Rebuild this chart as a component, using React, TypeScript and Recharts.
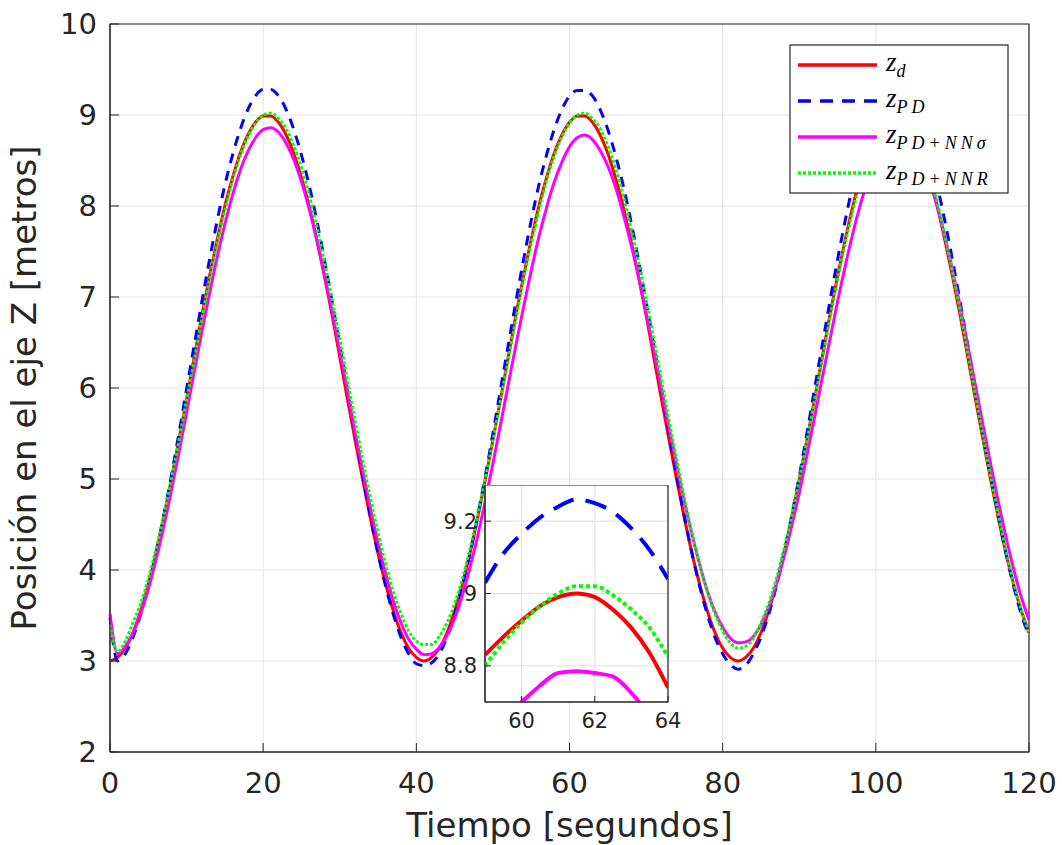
import { LineChart, Line, XAxis, YAxis, CartesianGrid, ReferenceArea, Label } from 'recharts'

// tiempo en segundos, paso de 1 s
const time = Array.from({ length: 121 }, (_, i) => i)

// trayectoria deseada z_d
const zd = [
  3.0, 3.04, 3.14, 3.31, 3.55, 3.84, 4.18, 4.57, 4.99, 5.43, 5.88, 6.34, 6.8, 7.23, 7.63, 8.0, 8.31, 8.58, 8.78, 8.92, 8.99,
  8.99, 8.92, 8.78, 8.58, 8.31, 8.0, 7.63, 7.23, 6.8, 6.34, 5.88, 5.43, 4.99, 4.57, 4.18, 3.84, 3.55, 3.31, 3.14, 3.04,
  3.0, 3.04, 3.14, 3.31, 3.55, 3.84, 4.18, 4.57, 4.99, 5.43, 5.88, 6.34, 6.8, 7.23, 7.63, 8.0, 8.31, 8.58, 8.78, 8.92, 8.99,
  8.99, 8.92, 8.78, 8.58, 8.31, 8.0, 7.63, 7.23, 6.8, 6.34, 5.88, 5.43, 4.99, 4.57, 4.18, 3.84, 3.55, 3.31, 3.14, 3.04,
  3.0, 3.04, 3.14, 3.31, 3.55, 3.84, 4.18, 4.57, 4.99, 5.43, 5.88, 6.34, 6.8, 7.23, 7.63, 8.0, 8.31, 8.58, 8.78, 8.92, 8.99,
  8.99, 8.92, 8.78, 8.58, 8.31, 8.0, 7.63, 7.23, 6.8, 6.34, 5.88, 5.43, 4.99, 4.57, 4.18, 3.84, 3.55, 3.31,
]

// controlador PD
const zPD = [
  3.48, 3.0, 3.08, 3.26, 3.51, 3.82, 4.18, 4.59, 5.03, 5.5, 5.99, 6.47, 6.95, 7.41, 7.84, 8.23, 8.56, 8.84, 9.06, 9.21, 9.28,
  9.28, 9.21, 9.06, 8.84, 8.56, 8.23, 7.84, 7.41, 6.95, 6.47, 5.99, 5.5, 5.03, 4.59, 4.18, 3.82, 3.51, 3.26, 3.08, 2.97,
  2.95, 2.98, 3.08, 3.26, 3.51, 3.82, 4.18, 4.59, 5.03, 5.5, 5.99, 6.47, 6.95, 7.41, 7.84, 8.23, 8.56, 8.84, 9.06, 9.21, 9.27,
  9.27, 9.21, 9.06, 8.84, 8.56, 8.23, 7.84, 7.41, 6.95, 6.47, 5.99, 5.5, 5.03, 4.59, 4.18, 3.82, 3.51, 3.26, 3.08, 2.96,
  2.91, 2.95, 3.08, 3.26, 3.51, 3.82, 4.18, 4.59, 5.03, 5.5, 5.99, 6.47, 6.95, 7.41, 7.84, 8.23, 8.56, 8.84, 9.06, 9.21, 9.28,
  9.28, 9.21, 9.06, 8.84, 8.56, 8.23, 7.84, 7.41, 6.95, 6.47, 5.99, 5.5, 5.03, 4.59, 4.18, 3.82, 3.51, 3.28,
]

// PD + NN sigma
const zNNs = [
  3.52, 3.08, 3.16, 3.31, 3.52, 3.79, 4.11, 4.47, 4.87, 5.29, 5.73, 6.18, 6.62, 7.04, 7.44, 7.8, 8.12, 8.39, 8.6, 8.75, 8.84,
  8.86, 8.81, 8.69, 8.51, 8.27, 7.97, 7.63, 7.25, 6.84, 6.41, 5.97, 5.52, 5.09, 4.68, 4.3, 3.96, 3.66, 3.42, 3.24, 3.13,
  3.07, 3.08, 3.15, 3.28, 3.47, 3.72, 4.03, 4.37, 4.76, 5.17, 5.6, 6.04, 6.47, 6.89, 7.29, 7.66, 7.98, 8.26, 8.48, 8.65, 8.75,
  8.78, 8.73, 8.61, 8.44, 8.21, 7.92, 7.59, 7.23, 6.83, 6.42, 5.99, 5.56, 5.15, 4.75, 4.39, 4.06, 3.77, 3.54, 3.37, 3.25,
  3.2, 3.21, 3.27, 3.4, 3.59, 3.84, 4.14, 4.48, 4.85, 5.26, 5.68, 6.11, 6.53, 6.95, 7.34, 7.7, 8.02, 8.29, 8.51, 8.67, 8.77,
  8.8, 8.77, 8.67, 8.5, 8.28, 8.0, 7.67, 7.3, 6.9, 6.47, 6.03, 5.59, 5.16, 4.75, 4.36, 4.01, 3.7, 3.45,
]

// PD + NN R
const zNNR = [
  3.4, 3.1, 3.22, 3.42, 3.63, 3.9, 4.23, 4.59, 5.0, 5.42, 5.87, 6.31, 6.76, 7.19, 7.59, 7.95, 8.28, 8.55, 8.76, 8.91, 9.0,
  9.02, 8.96, 8.85, 8.66, 8.42, 8.12, 7.77, 7.39, 6.97, 6.54, 6.09, 5.64, 5.21, 4.79, 4.41, 4.06, 3.76, 3.52, 3.33, 3.22,
  3.18, 3.18, 3.27, 3.42, 3.63, 3.9, 4.23, 4.59, 5.0, 5.42, 5.87, 6.31, 6.76, 7.19, 7.59, 7.95, 8.28, 8.55, 8.76, 8.91, 9.0,
  9.02, 8.96, 8.85, 8.66, 8.42, 8.12, 7.77, 7.39, 6.97, 6.54, 6.09, 5.64, 5.21, 4.79, 4.41, 4.06, 3.76, 3.52, 3.33, 3.2,
  3.14, 3.16, 3.25, 3.42, 3.63, 3.9, 4.23, 4.59, 5.0, 5.42, 5.87, 6.31, 6.76, 7.19, 7.59, 7.95, 8.28, 8.55, 8.76, 8.91, 9.0,
  9.02, 8.95, 8.82, 8.62, 8.36, 8.05, 7.68, 7.28, 6.85, 6.39, 5.93, 5.47, 5.03, 4.61, 4.21, 3.86, 3.56, 3.3,
]

const xTicks = [0, 20, 40, 60, 80, 100, 120]
const yTicks = [2, 3, 4, 5, 6, 7, 8, 9, 10]

// acercamiento 59-64 s
const insetTime = [59, 59.5, 60, 60.5, 61, 61.5, 62, 62.5, 63, 63.5, 64]
const insetZd = [8.83, 8.88, 8.925, 8.965, 8.99, 9.0, 8.99, 8.955, 8.905, 8.835, 8.74]
const insetPD = [9.03, 9.11, 9.165, 9.21, 9.24, 9.26, 9.25, 9.225, 9.18, 9.12, 9.04]
const insetNNs = [8.6, 8.655, 8.7, 8.745, 8.78, 8.785, 8.78, 8.77, 8.725, 8.66, 8.58]
const insetNNR = [8.8, 8.865, 8.92, 8.965, 9.0, 9.02, 9.02, 8.995, 8.955, 8.905, 8.825]
const insetXTicks = [60, 62, 64]
const insetYTicks = [8.8, 9, 9.2]

const data = time.map((t, i) => ({ t, zd: zd[i], pd: zPD[i], nns: zNNs[i], nnr: zNNR[i] }))
const insetData = insetTime.map((t, i) => ({
  t,
  zd: insetZd[i],
  pd: insetPD[i],
  nns: insetNNs[i],
  nnr: insetNNR[i],
}))

const ink = '#262626'
const font = 'DejaVu Sans'

const YTitle = (props: any) => {
  const vb = props.viewBox
  const cx = vb.x + 36
  const cy = vb.y + vb.height / 2
  return (
    <text x={cx} y={cy} transform={`rotate(-90 ${cx} ${cy})`} textAnchor="middle" fill={ink} fontSize={34} fontFamily={font}>
      Posición en el eje Z [metros]
    </text>
  )
}

const legendItems = [
  { color: '#ff0000', dash: undefined, sub: 'd' },
  { color: '#0000ff', dash: '13 9', sub: 'PD' },
  { color: '#ff00ff', dash: undefined, sub: 'PD+NNσ' },
  { color: '#00ff00', dash: '3 2', sub: 'PD+NNR' },
]

function LegendBox() {
  return (
    <svg width={220} height={150} style={{ position: 'absolute', left: 789, top: 44 }}>
      <rect x={1} y={1} width={218} height={148} fill="#fff" stroke={ink} strokeWidth={1.2} />
      {legendItems.map((it, i) => {
        const y = 21 + i * 36
        return (
          <g key={it.sub}>
            <line x1={9} x2={88} y1={y} y2={y} stroke={it.color} strokeWidth={3.5} strokeDasharray={it.dash} />
            <text x={97} y={y + 6} fontFamily="Liberation Serif" fontStyle="italic" fill="#000">
              <tspan fontSize={27}>z</tspan>
              <tspan fontSize={18} dy={6} letterSpacing={it.sub.length > 1 ? 4 : 0}>
                {it.sub}
              </tspan>
            </text>
          </g>
        )
      })}
    </svg>
  )
}

function Inset() {
  return (
    <div style={{ position: 'absolute', left: 430, top: 485 }}>
      <LineChart width={260} height={250} data={insetData} margin={{ top: 0, right: 22, bottom: 0, left: 0 }}>
        <CartesianGrid stroke="#dedede" fill="#ffffff" fillOpacity={1} />
        <XAxis
          dataKey="t"
          type="number"
          domain={[59, 64]}
          ticks={insetXTicks}
          height={33}
          tickSize={-6}
          tickMargin={17}
          stroke={ink}
          tick={{ fill: ink, fontSize: 21, fontFamily: font }}
          allowDataOverflow
        />
        <YAxis
          type="number"
          domain={[8.7, 9.3]}
          ticks={insetYTicks}
          width={55}
          tickSize={-6}
          tickMargin={14}
          stroke={ink}
          tick={{ fill: ink, fontSize: 21, fontFamily: font }}
          allowDataOverflow
        />
        <ReferenceArea x1={59} x2={64} y1={8.7} y2={9.3} fill="none" stroke={ink} strokeWidth={1.2} />
        <Line dataKey="zd" type="monotone" stroke="#ff0000" strokeWidth={4} dot={false} isAnimationActive={false} />
        <Line dataKey="pd" type="monotone" stroke="#0000ff" strokeWidth={4} strokeDasharray="22 12" dot={false} isAnimationActive={false} />
        <Line dataKey="nns" type="monotone" stroke="#ff00ff" strokeWidth={4} dot={false} isAnimationActive={false} />
        <Line dataKey="nnr" type="monotone" stroke="#00ff00" strokeWidth={4} strokeDasharray="4 3" dot={false} isAnimationActive={false} />
      </LineChart>
    </div>
  )
}

export default function App() {
  return (
    <div style={{ position: 'absolute', left: 0, top: 0, width: 1062, height: 845, background: '#fff' }}>
      <LineChart width={1062} height={845} data={data} margin={{ top: 24, right: 33, bottom: 0, left: 0 }}>
        <CartesianGrid stroke="#e3e3e3" />
        <XAxis
          dataKey="t"
          type="number"
          domain={[0, 120]}
          ticks={xTicks}
          height={93}
          tickSize={-9}
          tickMargin={29}
          stroke={ink}
          tick={{ fill: ink, fontSize: 29, fontFamily: font }}
        >
          <Label value="Tiempo [segundos]" position="insideBottom" offset={8} fill={ink} fontSize={34} fontFamily={font} />
        </XAxis>
        <XAxis xAxisId="top" orientation="top" type="number" domain={[0, 120]} ticks={xTicks} height={0} tickSize={-9} tick={false} stroke={ink} allowDataOverflow />
        <YAxis
          type="number"
          domain={[2, 10]}
          ticks={yTicks}
          width={110}
          tickSize={-9}
          tickMargin={22}
          stroke={ink}
          tick={{ fill: ink, fontSize: 29, fontFamily: font }}
        >
          <Label content={YTitle} />
        </YAxis>
        <YAxis yAxisId="right" orientation="right" type="number" domain={[2, 10]} ticks={yTicks} width={0} tickSize={-9} tick={false} stroke={ink} allowDataOverflow />
        <ReferenceArea x1={0} x2={120} y1={2} y2={10} fill="none" stroke={ink} strokeWidth={1.2} />
        <Line dataKey="zd" type="monotone" stroke="#ff0000" strokeWidth={3} dot={false} isAnimationActive={false} />
        <Line dataKey="pd" type="monotone" stroke="#0000ff" strokeWidth={3} strokeDasharray="10 8" dot={false} isAnimationActive={false} />
        <Line dataKey="nns" type="monotone" stroke="#ff00ff" strokeWidth={3} dot={false} isAnimationActive={false} />
        <Line dataKey="nnr" type="monotone" stroke="#00ff00" strokeWidth={3} strokeDasharray="3 2" dot={false} isAnimationActive={false} />
      </LineChart>
      <Inset />
      <LegendBox />
    </div>
  )
}
